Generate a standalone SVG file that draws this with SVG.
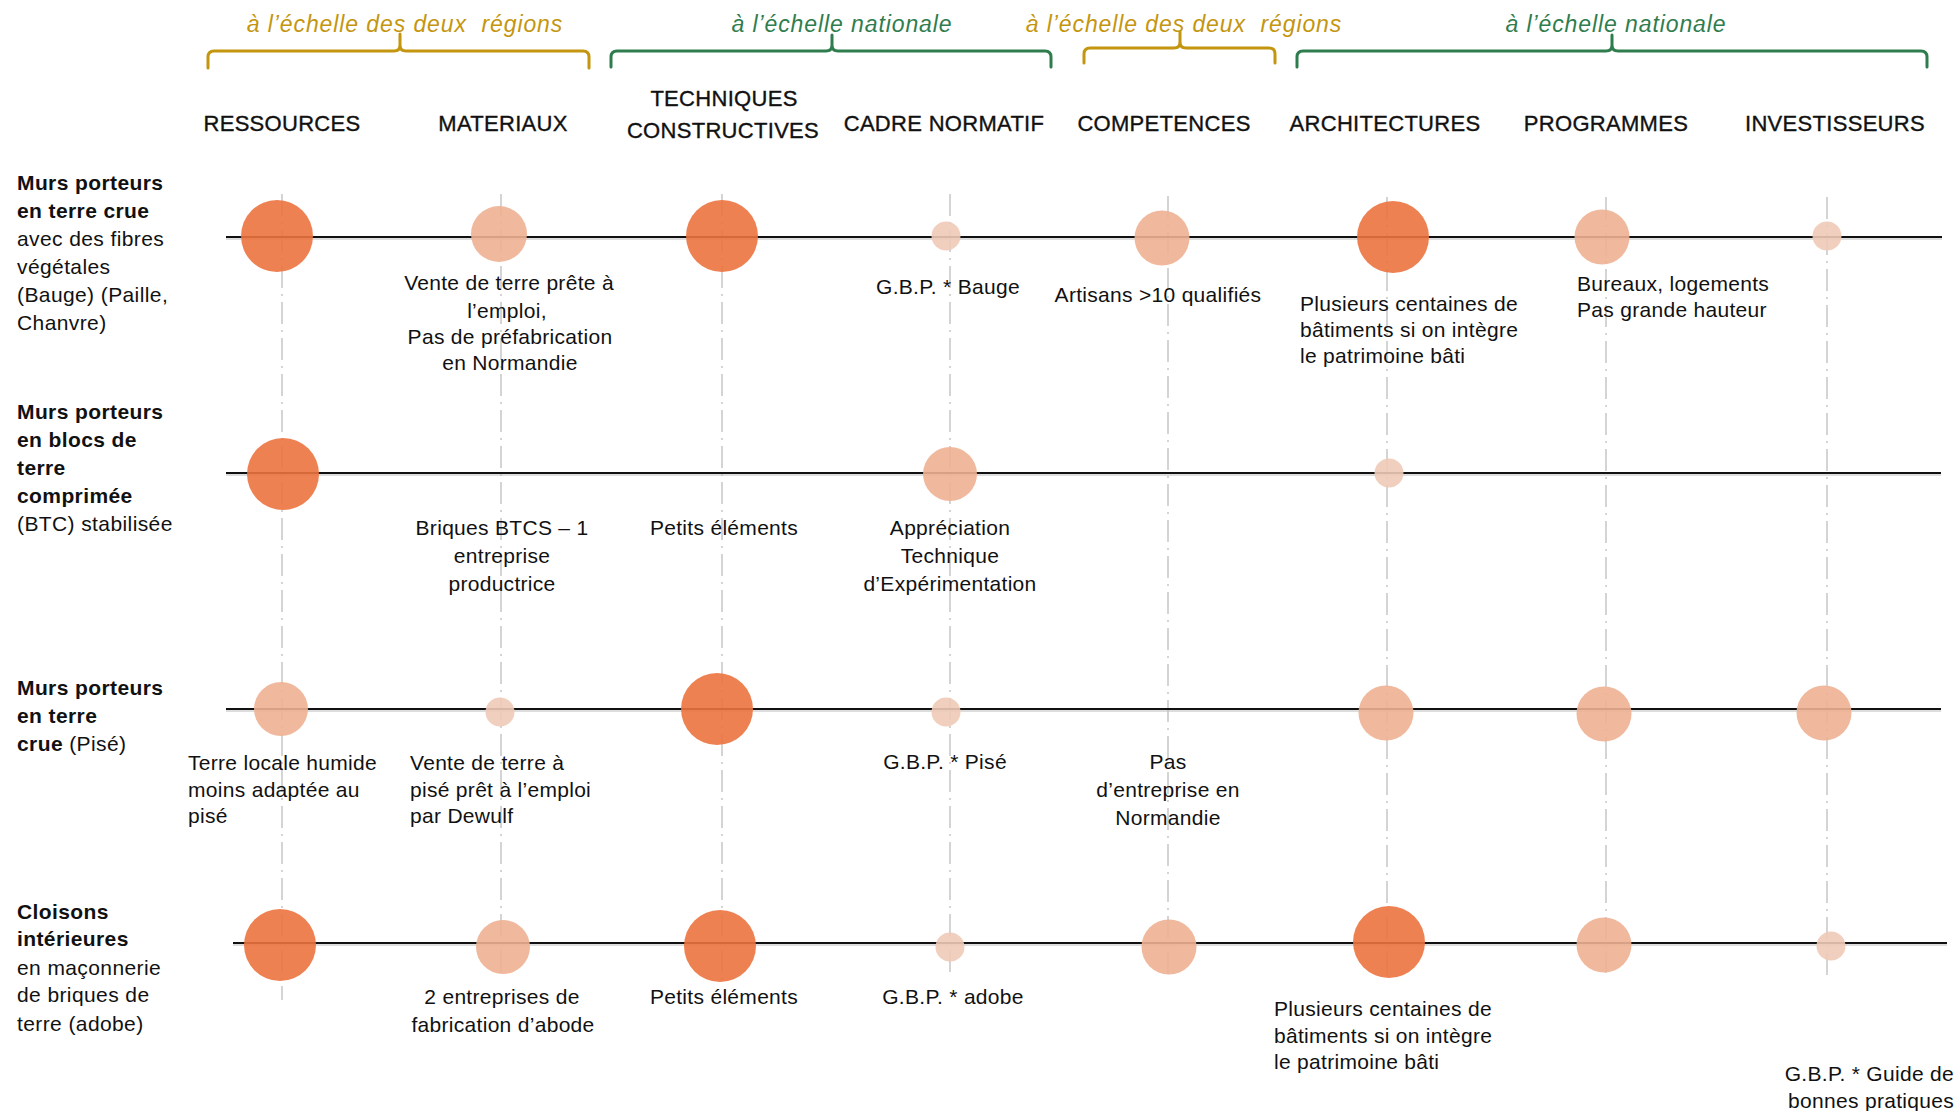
<svg xmlns="http://www.w3.org/2000/svg" width="1958" height="1111" viewBox="0 0 1958 1111">
<style>
text{font-family:"Liberation Sans",Arial,sans-serif;fill:#111;}
.h{font-size:22px;text-anchor:middle;letter-spacing:0.3px;stroke:#111;stroke-width:0.35px;}
.lab{font-size:21px;letter-spacing:0.4px;}
.b{font-weight:bold;}
.a{font-size:21px;letter-spacing:0.3px;}
.c{text-anchor:middle;}
.e{text-anchor:end;}
.sc{font-size:23px;font-style:italic;text-anchor:middle;letter-spacing:0.9px;white-space:pre;}
.gold{fill:#C4960F;}
.green{fill:#2F7D4E;}
.br{fill:none;stroke-width:3;stroke-linecap:round;stroke-linejoin:round;}
.vl{stroke:#d4d4d4;stroke-width:2;stroke-dasharray:22 6 2 6;fill:none;}
.hl{stroke:#111;stroke-width:2;fill:none;}
.hs{stroke:#bbb;stroke-width:1;fill:none;}
.d{fill:#EC733F;fill-opacity:0.9;}
.m{fill:#EEB194;fill-opacity:0.9;}
.l{fill:#F0CAB7;fill-opacity:0.9;}
</style>

<g id="scales">
<text class="sc gold" x="405" y="32">à l’échelle des deux  régions</text>
<path class="br" stroke="#C4960F" d="M208,68 V57 Q208,51 214,51 H394 Q400,51 400,45 V34 M400,45 Q400,51 406,51 H583 Q589,51 589,57 V68"/>
<text class="sc green" x="842" y="32">à l’échelle nationale</text>
<path class="br" stroke="#2F7D4E" d="M611,67 V57 Q611,51 617,51 H826 Q832,51 832,45 V35 M832,45 Q832,51 838,51 H1045 Q1051,51 1051,57 V67"/>
<text class="sc gold" x="1184" y="32">à l’échelle des deux  régions</text>
<path class="br" stroke="#C4960F" d="M1084,63 V54 Q1084,48 1090,48 H1174 Q1180,48 1180,42 V32 M1180,42 Q1180,48 1186,48 H1269 Q1275,48 1275,54 V63"/>
<text class="sc green" x="1616" y="32">à l’échelle nationale</text>
<path class="br" stroke="#2F7D4E" d="M1297,67 V57 Q1297,51 1303,51 H1606 Q1612,51 1612,45 V35 M1612,45 Q1612,51 1618,51 H1921 Q1927,51 1927,57 V67"/>
</g>

<g id="headers">
<text class="h" x="282" y="131">RESSOURCES</text>
<text class="h" x="503" y="131">MATERIAUX</text>
<text class="h" x="724" y="106">TECHNIQUES</text>
<text class="h" x="723" y="138">CONSTRUCTIVES</text>
<text class="h" x="944" y="131">CADRE NORMATIF</text>
<text class="h" x="1164" y="131">COMPETENCES</text>
<text class="h" x="1385" y="131">ARCHITECTURES</text>
<text class="h" x="1606" y="131">PROGRAMMES</text>
<text class="h" x="1835" y="131">INVESTISSEURS</text>
</g>

<g id="connectors">
<path class="vl" d="M282,194 V1000"/>
<path class="vl" d="M501,194 V978"/>
<path class="vl" d="M722,194 V985"/>
<path class="vl" d="M950,194 V972"/>
<path class="vl" d="M1168,196 V975"/>
<path class="vl" d="M1387,197 V978"/>
<path class="vl" d="M1606,197 V973"/>
<path class="vl" d="M1827,197 V978"/>
<path class="hs" d="M226,239 H1942 M226,475 H1941 M226,711 H1941 M233,945 H1947"/>
<path class="hl" d="M226,237 H1942"/>
<path class="hl" d="M226,473 H1941"/>
<path class="hl" d="M226,709 H1941"/>
<path class="hl" d="M233,943 H1947"/>
</g>

<g id="row-labels">
<g id="label-bauge">
<text class="lab b" x="17" y="190">Murs porteurs</text>
<text class="lab b" x="17" y="218">en terre crue</text>
<text class="lab" x="17" y="246">avec des fibres</text>
<text class="lab" x="17" y="274">végétales</text>
<text class="lab" x="17" y="302">(Bauge) (Paille,</text>
<text class="lab" x="17" y="330">Chanvre)</text>
</g>
<g id="label-btc">
<text class="lab b" x="17" y="419">Murs porteurs</text>
<text class="lab b" x="17" y="447">en blocs de</text>
<text class="lab b" x="17" y="475">terre</text>
<text class="lab b" x="17" y="503">comprimée</text>
<text class="lab" x="17" y="531">(BTC) stabilisée</text>
</g>
<g id="label-pise">
<text class="lab b" x="17" y="695">Murs porteurs</text>
<text class="lab b" x="17" y="723">en terre</text>
<text class="lab" x="17" y="751"><tspan class="b">crue</tspan> (Pisé)</text>
</g>
<g id="label-adobe">
<text class="lab b" x="17" y="919">Cloisons</text>
<text class="lab b" x="17" y="946">intérieures</text>
<text class="lab" x="17" y="975">en maçonnerie</text>
<text class="lab" x="17" y="1002">de briques de</text>
<text class="lab" x="17" y="1031">terre (adobe)</text>
</g>
</g>

<g id="row1">
<circle id="r1-res" class="d" cx="277" cy="236" r="36"/>
<circle id="r1-mat" class="m" cx="499" cy="234" r="28"/>
<circle id="r1-tec" class="d" cx="722" cy="236" r="36"/>
<circle id="r1-cad" class="l" cx="946" cy="236" r="14.5"/>
<circle id="r1-com" class="m" cx="1162" cy="238" r="27.5"/>
<circle id="r1-arc" class="d" cx="1393" cy="237" r="36"/>
<circle id="r1-pro" class="m" cx="1602" cy="237" r="27.5"/>
<circle id="r1-inv" class="l" cx="1827" cy="236" r="14.5"/>
</g>
<g id="row2">
<circle id="r2-res" class="d" cx="283" cy="474" r="36"/>
<circle id="r2-cad" class="m" cx="950" cy="474" r="27"/>
<circle id="r2-arc" class="l" cx="1389" cy="473" r="14.5"/>
</g>
<g id="row3">
<circle id="r3-res" class="m" cx="281" cy="709" r="27"/>
<circle id="r3-mat" class="l" cx="500" cy="712" r="14.5"/>
<circle id="r3-tec" class="d" cx="717" cy="709" r="36"/>
<circle id="r3-cad" class="l" cx="946" cy="712" r="14.5"/>
<circle id="r3-arc" class="m" cx="1386" cy="713" r="27.5"/>
<circle id="r3-pro" class="m" cx="1604" cy="714" r="27.5"/>
<circle id="r3-inv" class="m" cx="1824" cy="713" r="27.5"/>
</g>
<g id="row4">
<circle id="r4-res" class="d" cx="280" cy="945" r="36"/>
<circle id="r4-mat" class="m" cx="503" cy="947" r="27"/>
<circle id="r4-tec" class="d" cx="720" cy="946" r="36"/>
<circle id="r4-cad" class="l" cx="950" cy="947" r="14.5"/>
<circle id="r4-com" class="m" cx="1169" cy="947" r="27.5"/>
<circle id="r4-arc" class="d" cx="1389" cy="942" r="36"/>
<circle id="r4-pro" class="m" cx="1604" cy="945" r="27.5"/>
<circle id="r4-inv" class="l" cx="1831" cy="946" r="14.5"/>
</g>

<g id="notes">
<g id="n1-mat">
<text class="a c" x="509" y="290">Vente de terre prête à</text>
<text class="a c" x="507" y="318">l’emploi,</text>
<text class="a c" x="510" y="344">Pas de préfabrication</text>
<text class="a c" x="510" y="370">en Normandie</text>
</g>
<text id="n1-cad" class="a c" x="948" y="294">G.B.P. * Bauge</text>
<text id="n1-com" class="a c" x="1158" y="302">Artisans &gt;10 qualifiés</text>
<g id="n1-arc">
<text class="a" x="1300" y="311">Plusieurs centaines de</text>
<text class="a" x="1300" y="337">bâtiments si on intègre</text>
<text class="a" x="1300" y="363">le patrimoine bâti</text>
</g>
<g id="n1-pro">
<text class="a" x="1577" y="291">Bureaux, logements</text>
<text class="a" x="1577" y="317">Pas grande hauteur</text>
</g>
<g id="n2-mat">
<text class="a c" x="502" y="535">Briques BTCS – 1</text>
<text class="a c" x="502" y="563">entreprise</text>
<text class="a c" x="502" y="591">productrice</text>
</g>
<text id="n2-tec" class="a c" x="724" y="535">Petits éléments</text>
<g id="n2-cad">
<text class="a c" x="950" y="535">Appréciation</text>
<text class="a c" x="950" y="563">Technique</text>
<text class="a c" x="950" y="591">d’Expérimentation</text>
</g>
<g id="n3-res">
<text class="a" x="188" y="770">Terre locale humide</text>
<text class="a" x="188" y="797">moins adaptée au</text>
<text class="a" x="188" y="823">pisé</text>
</g>
<g id="n3-mat">
<text class="a" x="410" y="770">Vente de terre à</text>
<text class="a" x="410" y="797">pisé prêt à l’emploi</text>
<text class="a" x="410" y="823">par Dewulf</text>
</g>
<text id="n3-cad" class="a c" x="945" y="769">G.B.P. * Pisé</text>
<g id="n3-com">
<text class="a c" x="1168" y="769">Pas</text>
<text class="a c" x="1168" y="797">d’entreprise en</text>
<text class="a c" x="1168" y="825">Normandie</text>
</g>
<g id="n4-mat">
<text class="a c" x="502" y="1004">2 entreprises de</text>
<text class="a c" x="503" y="1032">fabrication d’abode</text>
</g>
<text id="n4-tec" class="a c" x="724" y="1004">Petits éléments</text>
<text id="n4-cad" class="a c" x="953" y="1004">G.B.P. * adobe</text>
<g id="n4-arc">
<text class="a" x="1274" y="1016">Plusieurs centaines de</text>
<text class="a" x="1274" y="1043">bâtiments si on intègre</text>
<text class="a" x="1274" y="1069">le patrimoine bâti</text>
</g>
<g id="n4-inv">
<text class="a e" x="1954" y="1081">G.B.P. * Guide de</text>
<text class="a e" x="1954" y="1108">bonnes pratiques</text>
</g>
</g>
</svg>
